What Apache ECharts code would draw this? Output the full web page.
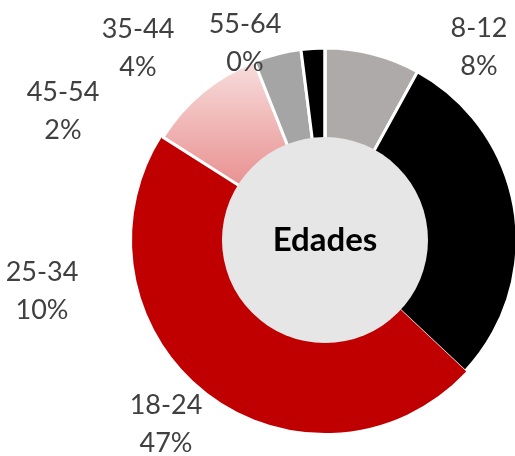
<!DOCTYPE html>
<html>
<head>
<meta charset="utf-8">
<script src="https://cdn.jsdelivr.net/npm/echarts@6/dist/echarts.min.js"></script>
<style>html,body{margin:0;padding:0;background:#fff}#c{width:515px;height:456px}</style>
</head>
<body>
<div id="c"></div>
<script>
const categories = ['8-12', '13-17', '18-24', '25-34', '35-44', '45-54', '55-64'];
const values = [8, 29, 47, 10, 4, 2, 0];
const centerTitle = 'Edades';

const sliceColors = [
  '#AEAAAA',
  '#000000',
  '#C00000',
  new echarts.graphic.LinearGradient(0, 0, 0, 1, [
    { offset: 0, color: '#F8DEDE' },
    { offset: 1, color: '#E8908F' }
  ]),
  '#A5A5A5',
  '#000000',
  '#000000'
];
const labelPos = {
  '8-12': [479, 47],
  '18-24': [166, 424],
  '25-34': [42, 291],
  '35-44': [138, 48],
  '45-54': [63, 111],
  '55-64': [245, 43]
};

const chart = echarts.init(document.getElementById('c'));
chart.setOption({
  animation: false,
  series: [
    {
      type: 'pie',
      center: [325, 240],
      radius: [100, 192],
      startAngle: 90,
      clockwise: true,
      percentPrecision: 0,
      label: {
        show: true,
        position: 'outside',
        formatter: '{b}\n{d}%',
        color: '#404040',
        fontFamily: 'Lato',
        fontSize: 27,
        lineHeight: 38,
        align: 'center'
      },
      labelLine: { show: false },
      labelLayout: function (p) {
        const pos = labelPos[categories[p.dataIndex]];
        if (!pos) return {};
        return { x: pos[0], y: pos[1], align: 'center', verticalAlign: 'middle' };
      },
      data: categories.map((name, i) => ({
        name: name,
        value: values[i],
        itemStyle: {
          color: sliceColors[i],
          borderColor: i === 2 ? '#C00000' : '#ffffff',
          borderWidth: i === 2 ? 2 : 3
        },
        label: { show: name !== '13-17' }
      }))
    },
    {
      type: 'pie',
      z: 3,
      silent: true,
      center: [325, 240],
      radius: [0, 103],
      label: {
        show: true,
        position: 'center',
        formatter: centerTitle,
        color: '#000000',
        fontFamily: 'Lato',
        fontWeight: 'bold',
        fontSize: 33
      },
      labelLine: { show: false },
      itemStyle: { color: '#E6E6E6' },
      data: [{ name: centerTitle, value: 1 }]
    }
  ]
});
</script>
</body>
</html>
